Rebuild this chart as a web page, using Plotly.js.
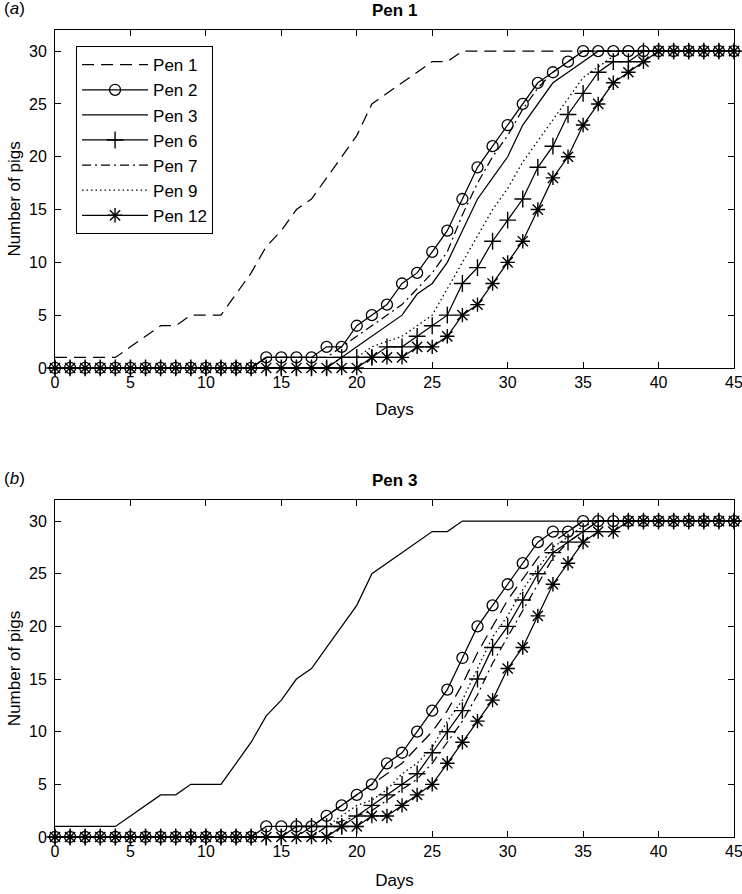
<!DOCTYPE html>
<html>
<head>
<meta charset="utf-8">
<script src="https://cdn.plot.ly/plotly-3.0.1.min.js"></script>
<style>html,body{margin:0;padding:0;background:#fff;}#chart{width:742px;height:894px;}</style>
</head>
<body>
<div id="chart"></div>
<script>
// ---- data ----
const days = [0,1,2,3,4,5,6,7,8,9,10,11,12,13,14,15,16,17,18,19,20,21,22,23,24,25,26,27,28,29,30,31,32,33,34,35,36,37,38,39,40,41,42,43,44,45];

// Panel (a): focal pen = Pen 1
const pen1a  = [1,1,1,1,1, 2,3,4,4,5, 5,5,7,9,11.5, 13,15,16,18,20, 22,25,26,27,28, 29,29,30,30,30, 30,30,30,30,30, 30,30,30,30,30, 30,30,30,30,30, 30];
const pen2a  = [0,0,0,0,0, 0,0,0,0,0, 0,0,0,0,1, 1,1,1,2,2, 4,5,6,8,9, 11,13,16,19,21, 23,25,27,28,29, 30,30,30,30,30, 30,30,30,30,30, 30];
const pen3a  = [0,0,0,0,0, 0,0,0,0,0, 0,0,0,0,1, 1,1,1,1,1, 2,3,4,5,7, 8,10,13,16,18, 20,23,25,27,28, 29,30,30,30,30, 30,30,30,30,30, 30];
const pen6a  = [0,0,0,0,0, 0,0,0,0,0, 0,0,0,0,0, 0,0,0,0,1, 1,1,2,2,3, 4,5,8,9.5,12, 14,16,19,21,24, 26,28,29,29,30, 30,30,30,30,30, 30];
const pen7a  = [0,0,0,0,0, 0,0,0,0,0, 0,0,0,0,1, 1,1,1,1,2, 3,4,5,6,7.5, 9,11,14.5,17.5,20, 22,24.5,26.5,28,29, 30,30,30,30,30, 30,30,30,30,30, 30];
const pen9a  = [0,0,0,0,0, 0,0,0,0,0, 0,0,0,0,0, 0,0,0,0,1, 1,2,2.5,3,4, 5,7.5,10,12.5,15, 17,19.5,21.5,23.5,25.5, 27.5,28.5,29.5,30,30, 30,30,30,30,30, 30];
const pen12a = [0,0,0,0,0, 0,0,0,0,0, 0,0,0,0,0, 0,0,0,0,0, 0,1,1,1,2, 2,3,5,6,8, 10,12,15,18,20, 23,25,27,28,29, 30,30,30,30,30, 30];

// Panel (b): focal pen = Pen 3
const pen1b  = [0,0,0,0,0, 0,0,0,0,0, 0,0,0,0,0, 0,0,1,2,3, 4,5,6,7,8.5, 10,12,14.5,17.5,20, 22.5,24.5,26.5,28,29, 30,30,30,30,30, 30,30,30,30,30, 30];
const pen2b  = [0,0,0,0,0, 0,0,0,0,0, 0,0,0,0,1, 1,1,1,2,3, 4,5,7,8,10, 12,14,17,20,22, 24,26,28,29,29, 30,30,30,30,30, 30,30,30,30,30, 30];
const pen3b  = [1,1,1,1,1, 2,3,4,4,5, 5,5,7,9,11.5, 13,15,16,18,20, 22,25,26,27,28, 29,29,30,30,30, 30,30,30,30,30, 30,30,30,30,30, 30,30,30,30,30, 30];
const pen6b  = [0,0,0,0,0, 0,0,0,0,0, 0,0,0,0,0, 0,1,1,1,1, 2,3,4,5,6, 8,10,12,15,18, 20,22.5,25,27,28, 29,30,30,30,30, 30,30,30,30,30, 30];
const pen7b  = [0,0,0,0,0, 0,0,0,0,0, 0,0,0,0,0, 0,0,0,1,1.5, 2,2.5,3.5,4.5,5.5, 7,9,11,13.5,16.5, 19,21.5,24,26.5,28, 29,30,30,30,30, 30,30,30,30,30, 30];
const pen9b  = [0,0,0,0,0, 0,0,0,0,0, 0,0,0,0,0, 0,0,0,1,2, 3,3.5,4.5,6,7, 8.5,11,13,16,19, 21,23.5,25.5,27.5,28.5, 29.5,30,30,30,30, 30,30,30,30,30, 30];
const pen12b = [0,0,0,0,0, 0,0,0,0,0, 0,0,0,0,0, 0,0,0,0,1, 1,2,2,3,4, 5,7,9,11,13, 16,18,21,24,26, 28,29,29,30,30, 30,30,30,30,30, 30];

const seriesNames = ["Pen 1","Pen 2","Pen 3","Pen 6","Pen 7","Pen 9","Pen 12"];
const yTicks = [0,5,10,15,20,25,30];
const xTicks = [0,5,10,15,20,25,30,35,40,45];

// ---- styles ----
const FONT = "Liberation Sans, Arial, Helvetica, sans-serif";
const LW = 1.25;
const styles = {
  "Pen 1":  {line:{color:"#000",width:LW,dash:"12px,7px"}, mode:"lines"},
  "Pen 2":  {line:{color:"#000",width:LW}, mode:"lines+markers", marker:{symbol:"circle-open",size:11,color:"#000",line:{width:1.3,color:"#000"}}},
  "Pen 3":  {line:{color:"#000",width:LW}, mode:"lines"},
  "Pen 6":  {line:{color:"#000",width:LW}, mode:"lines+markers", marker:{symbol:"cross-thin-open",size:12,color:"#000",line:{width:1.4,color:"#000"}}},
  "Pen 7":  {line:{color:"#000",width:LW,dash:"9px,4px,2px,4px"}, mode:"lines"},
  "Pen 9":  {line:{color:"#000",width:1.3,dash:"1.5px,3px"}, mode:"lines"},
  "Pen 12": {line:{color:"#000",width:LW}, mode:"lines+markers", marker:{symbol:"asterisk-open",size:12,color:"#000",line:{width:1.4,color:"#000"}}}
};

const dataA = [pen1a, pen2a, pen3a, pen6a, pen7a, pen9a, pen12a];
const dataB = [pen1b, pen2b, pen3b, pen6b, pen7b, pen9b, pen12b];

const traces = [];
seriesNames.forEach((n,i)=>{
  traces.push(Object.assign({type:"scatter", x:days, y:dataA[i], name:n, xaxis:"x", yaxis:"y", showlegend:true, cliponaxis:false}, styles[n]));
});
seriesNames.forEach((n,i)=>{
  traces.push(Object.assign({type:"scatter", x:days, y:dataB[i], name:n, xaxis:"x2", yaxis:"y2", showlegend:false, cliponaxis:false}, styles[n]));
});

const axBase = {
  range:[0,45], tickvals:xTicks, ticks:"inside", ticklen:6, tickwidth:1, tickcolor:"#000",
  showline:true, linecolor:"#000", linewidth:1, mirror:"ticks", showgrid:false, zeroline:false,
  ticklabeloverflow:"allow",
  tickfont:{family:FONT,size:16,color:"#000"}
};
const ayBase = {
  range:[0,32], tickvals:yTicks, ticks:"inside", ticklen:6, tickwidth:1, tickcolor:"#000",
  showline:true, linecolor:"#000", linewidth:1, mirror:"ticks", showgrid:false, zeroline:false,
  ticklabelstandoff:4,
  tickfont:{family:FONT,size:16,color:"#000"}
};
const tFont = {family:FONT,size:17,color:"#000"};

const layout = {
  width:742, height:894,
  margin:{l:55, r:8, t:30, b:57},
  paper_bgcolor:"#fff", plot_bgcolor:"#fff",
  font:{family:FONT, color:"#000"},
  xaxis: Object.assign({}, axBase, {anchor:"y", domain:[0,1], title:{text:"Days", font:tFont, standoff:12}}),
  yaxis: Object.assign({}, ayBase, {anchor:"x", domain:[0.5812,1], title:{text:"Number of pigs", font:tFont, standoff:4}}),
  xaxis2: Object.assign({}, axBase, {anchor:"y2", domain:[0,1], title:{text:"Days", font:tFont, standoff:14}}),
  yaxis2: Object.assign({}, ayBase, {anchor:"x2", domain:[0,0.4176], title:{text:"Number of pigs", font:tFont, standoff:4}}),
  legend:{x:0.031, y:0.98, xanchor:"left", yanchor:"top", bgcolor:"#fff", bordercolor:"#000", borderwidth:1,
          font:{family:FONT,size:17,color:"#000"}, itemwidth:66, tracegroupgap:0},
  annotations:[
    {text:"<b>Pen 1</b>", xref:"paper", yref:"paper", x:0.5, y:1, yanchor:"bottom", yshift:8, showarrow:false, font:{family:FONT,size:17,color:"#000"}},
    {text:"<b>Pen 3</b>", xref:"paper", yref:"paper", x:0.5, y:0.4176, yanchor:"bottom", yshift:8, showarrow:false, font:{family:FONT,size:17,color:"#000"}},
    {text:"(<i>a</i>)", xref:"paper", yref:"paper", x:-0.078, y:1, xanchor:"left", yanchor:"bottom", yshift:10, showarrow:false, font:{family:FONT,size:17,color:"#000"}},
    {text:"(<i>b</i>)", xref:"paper", yref:"paper", x:-0.078, y:0.4176, xanchor:"left", yanchor:"bottom", yshift:10, showarrow:false, font:{family:FONT,size:17,color:"#000"}}
  ]
};

Plotly.newPlot("chart", traces, layout, {displayModeBar:false, staticPlot:true});
</script>
</body>
</html>
